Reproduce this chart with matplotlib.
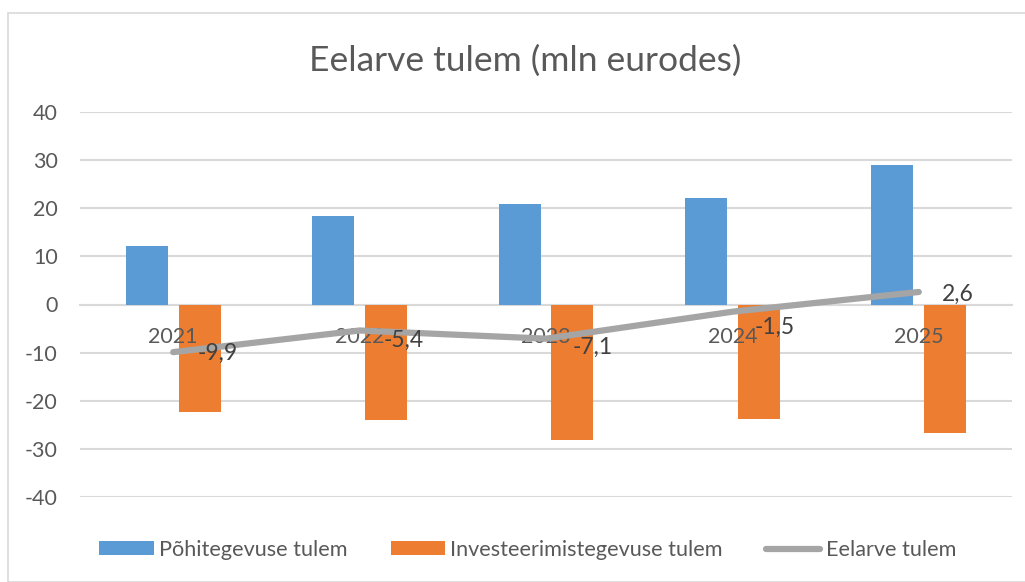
import matplotlib
matplotlib.use("Agg")
import matplotlib.pyplot as plt
from matplotlib.patches import Rectangle
import numpy as np

categories = ["2021", "2022", "2023", "2024", "2025"]
pohitegevus = [12.1, 18.4, 20.9, 22.1, 29.0]
investeerimine = [-22.3, -23.9, -28.2, -23.8, -26.6]
eelarve = [-9.9, -5.4, -7.1, -1.5, 2.6]
series_names = ["Põhitegevuse tulem", "Investeerimistegevuse tulem", "Eelarve tulem"]
y_ticks = [-40, -30, -20, -10, 0, 10, 20, 30, 40]
title = "Eelarve tulem (mln eurodes)"

# label offsets in pixels (style only)
label_offsets = [(24, -1), (24, -10), (27, -9), (22, -16), (23, -2)]

FONT = ["Lato", "DejaVu Sans"]
TXT = "#595959"
plt.rcParams["font.family"] = FONT

W, H = 1025, 582
fig = plt.figure(figsize=(W / 100, H / 100), dpi=100)
fig.patch.set_facecolor("white")

# chart border
fig.patches.append(Rectangle((8 / W, 0), 1.2, (H - 13) / H, transform=fig.transFigure,
                             fill=False, edgecolor="#d9d9d9", linewidth=1.2))

left, right = 80 / W, 1012 / W
top, bottom = 1 - 112 / H, 1 - 497 / H
ax = fig.add_axes([left, bottom, right - left, top - bottom])
ax.set_facecolor("none")

x = np.arange(len(categories))
bw = 0.225
off = 0.142
b1 = ax.bar(x - off, pohitegevus, bw, color="#5B9BD5", label=series_names[0], zorder=2)
b2 = ax.bar(x + off, investeerimine, bw, color="#ED7D31", label=series_names[1], zorder=2)
ln, = ax.plot(x, eelarve, color="#A5A5A5", linewidth=4.5, solid_capstyle="round",
              label=series_names[2], zorder=4)

for i, v in enumerate(eelarve):
    dx, dy = label_offsets[i]
    ax.annotate(f"{v:.1f}".replace(".", ","), (x[i], v), xytext=(dx * 0.72, dy * 0.72),
                textcoords="offset points", ha="left", va="center",
                fontsize=16.5, color="#404040", zorder=5)

ax.set_xlim(-0.5, len(categories) - 0.5)
ax.set_ylim(-40, 40)
ax.set_yticks(y_ticks)
ax.set_yticklabels([str(t) for t in y_ticks])
ax.yaxis.grid(True, color="#d9d9d9", linewidth=1.5)
ax.set_axisbelow(True)
ax.xaxis.set_zorder(3)
for s in ["top", "right", "left"]:
    ax.spines[s].set_visible(False)
ax.spines["bottom"].set_position(("data", 0))
ax.spines["bottom"].set_color("#d9d9d9")
ax.spines["bottom"].set_linewidth(1.5)
ax.spines["bottom"].set_zorder(1)
ax.set_xticks(x)
ax.set_xticklabels(categories)
ax.tick_params(axis="x", length=0, pad=16, labelsize=15.5, labelcolor=TXT)
ax.tick_params(axis="y", length=0, pad=16, labelsize=15.5, labelcolor=TXT)

fig.text((310 + 740) / 2 / W, 1 - 61 / H, title, ha="center", va="center",
         fontsize=25.5, color=TXT)

leg = fig.legend([b1, b2, ln], series_names, loc="center", bbox_to_anchor=(0.515, 1 - 550 / H),
                 ncol=3, frameon=False, fontsize=15.6, handlelength=2.5, handleheight=0.62,
                 handletextpad=0.25, columnspacing=2.0, labelcolor=TXT)

fig.savefig("out.png", dpi=100, facecolor="white")
